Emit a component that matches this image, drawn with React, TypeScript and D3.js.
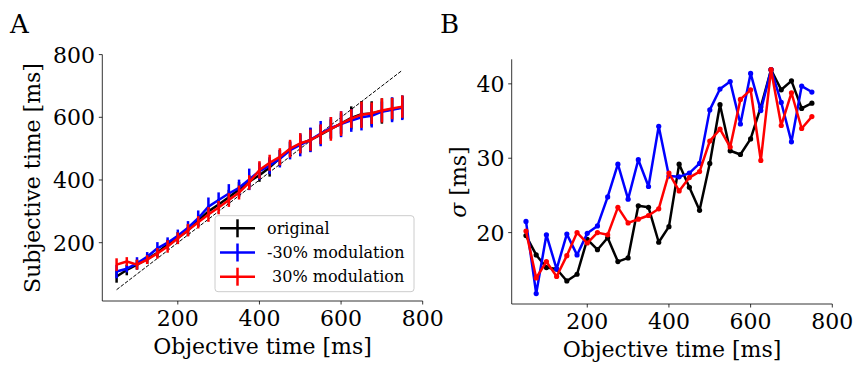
import React from "react";
import * as d3 from "d3";

const xs = [50, 75, 100, 125, 150, 175, 200, 225, 250, 275, 300, 325, 350, 375, 400, 425, 450, 475, 500, 525, 550, 575, 600, 625, 650, 675, 700, 725, 750];

const meanOriginal = [92, 113, 130, 148, 168, 195, 215, 240, 270, 300, 322, 345, 370, 395, 415, 440, 470, 498, 515, 528, 545, 563, 580, 598, 610, 612, 620, 626, 632];
const meanMinus = [108, 117, 134, 155, 182, 200, 222, 248, 278, 315, 336, 357, 375, 402, 428, 446, 468, 495, 512, 528, 548, 566, 578, 590, 600, 605, 618, 624, 630];
const meanPlus = [130, 140, 130, 146, 166, 188, 214, 240, 265, 290, 312, 336, 360, 392, 432, 455, 474, 500, 517, 527, 546, 563, 580, 596, 608, 613, 622, 628, 634];

const sigmaOriginal = [19.6, 17.0, 15.3, 15.1, 13.5, 14.4, 19.1, 17.7, 19.3, 16.1, 16.6, 23.6, 23.4, 18.7, 20.8, 29.2, 26.1, 23.0, 29.3, 37.2, 31.0, 30.5, 32.6, 36.9, 41.9, 39.2, 40.4, 36.7, 37.4];
const sigmaMinus = [21.5, 11.8, 19.7, 15.1, 19.8, 17.0, 19.9, 20.9, 24.8, 29.2, 24.5, 29.8, 26.2, 34.3, 27.6, 27.5, 28.0, 29.3, 36.5, 39.3, 40.3, 34.6, 41.4, 36.4, 41.9, 37.5, 32.2, 39.7, 38.9];
const sigmaPlus = [20.2, 13.9, 16.1, 14.1, 16.9, 20.0, 18.6, 20.0, 19.7, 23.4, 21.3, 21.8, 22.3, 23.2, 28.0, 25.6, 27.4, 28.2, 32.3, 33.9, 31.5, 37.9, 39.2, 29.7, 41.9, 34.4, 38.8, 34.0, 35.6];

const seriesNames = ["original", "-30% modulation", "\u00a030% modulation"];
const seriesColors = ["black", "blue", "red"];
const xTicks = [200, 400, 600, 800];
const yTicksA = [200, 400, 600, 800];
const yTicksB = [20, 30, 40];
const identityLine = [50, 750];

const FONT = "DejaVu Serif";

export default function App() {
  const means = [meanOriginal, meanMinus, meanPlus];
  const sigmas = [sigmaOriginal, sigmaMinus, sigmaPlus];

  // Panel A
  const ax = d3.scaleLinear().domain([15, 800]).range([102.3, 422.7]);
  const ay = d3.scaleLinear().domain([14, 800]).range([301, 54.6]);
  // Panel B
  const bx = d3.scaleLinear().domain([15, 800]).range([511.7, 832.3]);
  const by = d3.scaleLinear().domain([10.4, 43.3]).range([304, 59.3]);

  const lineA = (vals: number[]) =>
    d3.line<number>().x((_, i) => ax(xs[i])).y((v) => ay(v))(vals) || "";
  const lineB = (vals: number[]) =>
    d3.line<number>().x((_, i) => bx(xs[i])).y((v) => by(v))(vals) || "";

  const tickFont = 22;
  const labelFont = 22;

  return (
    <svg
      width={854}
      height={367}
      style={{ position: "absolute", left: 0, top: 0, background: "white" }}
      fontFamily={FONT}
    >
      <rect x={0} y={0} width={854} height={367} fill="white" />
      {/* Panel labels */}
      <text x={10} y={33} fontSize={26} fill="black">A</text>
      <text x={440} y={33} fontSize={26} fill="black">B</text>

      {/* ===== Panel A ===== */}
      <line
        x1={ax(identityLine[0])}
        y1={ay(identityLine[0])}
        x2={ax(identityLine[1])}
        y2={ay(identityLine[1])}
        stroke="black"
        strokeWidth={1}
        strokeDasharray="3.7,1.6"
      />
      {means.map((m, s) => (
        <g key={"a" + s}>
          {m.map((v, i) => (
            <line
              key={i}
              x1={ax(xs[i])}
              x2={ax(xs[i])}
              y1={ay(v - sigmas[s][i])}
              y2={ay(v + sigmas[s][i])}
              stroke={seriesColors[s]}
              strokeWidth={2.5}
            />
          ))}
          <path d={lineA(m)} fill="none" stroke={seriesColors[s]} strokeWidth={2.5} strokeLinejoin="round" />
        </g>
      ))}
      {/* axes A */}
      <line x1={102.3} x2={102.3} y1={54.6} y2={301} stroke="black" strokeWidth={0.8} />
      <line x1={102.3} x2={422.7} y1={301} y2={301} stroke="black" strokeWidth={0.8} />
      {yTicksA.map((t) => (
        <g key={"yta" + t}>
          <line x1={98.8} x2={102.3} y1={ay(t)} y2={ay(t)} stroke="black" strokeWidth={0.8} />
          <text x={95} y={ay(t)} dy="0.36em" textAnchor="end" fontSize={tickFont}>{t}</text>
        </g>
      ))}
      {xTicks.map((t) => (
        <g key={"xta" + t}>
          <line x1={ax(t)} x2={ax(t)} y1={301} y2={304.5} stroke="black" strokeWidth={0.8} />
          <text x={ax(t)} y={326} textAnchor="middle" fontSize={tickFont}>{t}</text>
        </g>
      ))}
      <text x={262.5} y={354} textAnchor="middle" fontSize={labelFont}>Objective time [ms]</text>
      <text
        transform={`translate(40,178) rotate(-90)`}
        textAnchor="middle"
        fontSize={labelFont}
      >
        Subjective time [ms]
      </text>

      {/* legend */}
      <rect x={215} y={215.7} width={199} height={76} rx={3} fill="white" fillOpacity={0.8} stroke="#cccccc" strokeWidth={1} />
      {seriesNames.map((n, i) => {
        const yy = 228.3 + i * 24.2;
        return (
          <g key={"lg" + i}>
            <line x1={220} x2={255} y1={yy} y2={yy} stroke={seriesColors[i]} strokeWidth={2.5} />
            <line x1={237.5} x2={237.5} y1={yy - 9} y2={yy + 9} stroke={seriesColors[i]} strokeWidth={2.5} />
            <text x={267} y={yy} dy="0.33em" fontSize={16} style={{ whiteSpace: "pre" }}>{n}</text>
          </g>
        );
      })}

      {/* ===== Panel B ===== */}
      {means.map((_, s) => (
        <g key={"b" + s}>
          <path d={lineB(sigmas[s])} fill="none" stroke={seriesColors[s]} strokeWidth={2.5} strokeLinejoin="round" />
          {sigmas[s].map((v, i) => (
            <circle key={i} cx={bx(xs[i])} cy={by(v)} r={2.6} fill={seriesColors[s]} />
          ))}
        </g>
      ))}
      <line x1={511.7} x2={511.7} y1={59.3} y2={304} stroke="black" strokeWidth={0.8} />
      <line x1={511.7} x2={832.3} y1={304} y2={304} stroke="black" strokeWidth={0.8} />
      {yTicksB.map((t) => (
        <g key={"ytb" + t}>
          <line x1={508.2} x2={511.7} y1={by(t)} y2={by(t)} stroke="black" strokeWidth={0.8} />
          <text x={504.5} y={by(t)} dy="0.36em" textAnchor="end" fontSize={tickFont}>{t}</text>
        </g>
      ))}
      {xTicks.map((t) => (
        <g key={"xtb" + t}>
          <line x1={bx(t)} x2={bx(t)} y1={304} y2={307.5} stroke="black" strokeWidth={0.8} />
          <text x={bx(t)} y={329} textAnchor="middle" fontSize={tickFont}>{t}</text>
        </g>
      ))}
      <text x={672} y={357} textAnchor="middle" fontSize={labelFont}>Objective time [ms]</text>
      <text transform={`translate(466,182) rotate(-90)`} textAnchor="middle" fontSize={labelFont}>
        <tspan fontStyle="italic">σ</tspan> [ms]
      </text>
    </svg>
  );
}
